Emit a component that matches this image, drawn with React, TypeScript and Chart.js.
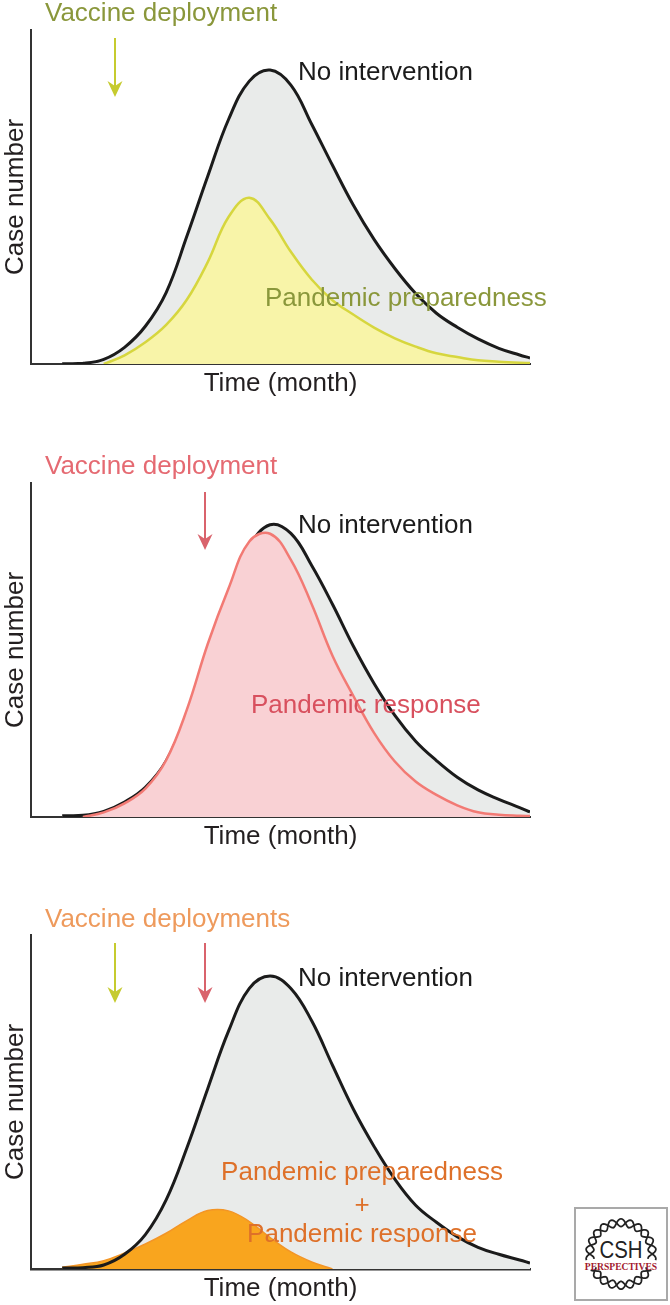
import React, { useEffect, useRef } from "react";
import { Chart, registerables } from "chart.js";

Chart.register(...registerables);

const FONT = '"Liberation Sans", Arial, Helvetica, sans-serif';
const FS = 26;

// Time axis (months) shared by all series
const months = [1.5, 2.5, 3.5, 4.5, 5.5, 6.5, 7.5, 8.5, 9.5, 10.5, 11.5, 12.5, 13.5, 14.5, 15.5, 16.5, 17.5, 18.5, 19.5, 20.5, 21.5, 22.5, 23.5, 24];

// Panel A: pandemic preparedness
const noInterventionA = [0.1, 0.2, 1.4, 5.0, 11.3, 21.4, 38.3, 56.2, 73.2, 84.7, 88.0, 83.5, 71.8, 59.5, 47.6, 37.3, 28.6, 21.1, 15.2, 11.0, 7.5, 4.7, 2.7, 1.8];
const preparedness = [null, null, 0, 2.6, 6.5, 11.7, 19.3, 30.5, 44.0, 49.8, 43.3, 33.6, 25.3, 19.1, 14.8, 10.9, 7.7, 5.2, 3.2, 2.1, 1.1, 0.7, 0.4, 0.3];

// Panel B: pandemic response
const noInterventionB = [0.4, 0.5, 1.7, 4.5, 8.9, 16.8, 30.9, 49.7, 67.1, 81.0, 87.5, 84.9, 75.3, 63.7, 51.2, 40.0, 30.4, 22.7, 16.9, 11.9, 8.1, 5.3, 2.8, 1.5];
const response = [null, 0, 1.4, 4.1, 8.5, 17.0, 32.2, 51.8, 68.4, 82.5, 84.8, 77.0, 63.7, 48.3, 36.3, 25.2, 16.6, 10.6, 6.6, 3.5, 1.4, 0.7, 0.4, 0.3];

// Panel C: preparedness + response
const noInterventionC = [0.3, 0.4, 1.2, 4.4, 10.3, 20.7, 36.3, 54.0, 71.2, 84.0, 87.7, 84.0, 74.3, 61.0, 47.9, 36.7, 26.9, 19.1, 14.0, 9.7, 6.5, 4.4, 2.7, 1.8];
const combined = [0.5, 1.4, 2.5, 4.8, 7.5, 10.7, 14.5, 17.5, 17.4, 14.2, 9.4, 5.1, 2.1, 0, null, null, null, null, null, null, null, null, null, null];

// Vaccine deployment times (months)
const deployPreparedness = 4.04;
const deployResponse = 8.37;

const xTitle = "Time (month)";
const yTitle = "Case number";

const pts = (vals: (number | null)[]) => months.map((m, i) => ({ x: m, y: vals[i] }));

const BLACK = "#1b1b1b";
const GRAY_FILL = "#e9ebea";

type TextItem = { text: string; x: number; y: number; color: string; align?: CanvasTextAlign };
type ArrowItem = { month: number; y1: number; y2: number; color: string };

function annotPlugin(texts: TextItem[], arrows: ArrowItem[]) {
  return {
    id: "annot",
    afterDraw(chart: any) {
      const ctx: CanvasRenderingContext2D = chart.ctx;
      const xs = chart.scales.x;
      ctx.save();
      for (const a of arrows) {
        const x = xs.getPixelForValue(a.month);
        ctx.strokeStyle = a.color;
        ctx.fillStyle = a.color;
        ctx.lineWidth = 2;
        ctx.beginPath();
        ctx.moveTo(x, a.y1);
        ctx.lineTo(x, a.y2 - 10);
        ctx.stroke();
        ctx.beginPath();
        ctx.moveTo(x, a.y2);
        ctx.lineTo(x - 7.5, a.y2 - 16);
        ctx.lineTo(x, a.y2 - 11);
        ctx.lineTo(x + 7.5, a.y2 - 16);
        ctx.closePath();
        ctx.fill();
      }
      ctx.font = `${FS}px ${FONT}`;
      ctx.textBaseline = "alphabetic";
      for (const t of texts) {
        ctx.fillStyle = t.color;
        ctx.textAlign = t.align || "left";
        ctx.fillText(t.text, t.x, t.y);
      }
      ctx.restore();
    },
  };
}

function buildConfig(height: number, datasets: any[], plugin: any, xBorder = 2): any {
  return {
    type: "line",
    data: { datasets },
    options: {
      animation: false,
      responsive: false,
      layout: { padding: { left: 0, top: 30, right: 140, bottom: height - 400 } },
      plugins: { legend: { display: false }, tooltip: { enabled: false } },
      elements: { point: { radius: 0, hoverRadius: 0 }, line: { tension: 0.4 } },
      events: [],
      scales: {
        x: {
          type: "linear",
          min: 0,
          max: 24,
          grid: { display: false, drawTicks: false },
          ticks: { display: false },
          border: { display: true, color: "#333333", width: xBorder },
          title: {
            display: true,
            text: xTitle,
            color: "#231f20",
            font: { family: FONT, size: FS },
            padding: { top: 0, bottom: 0.5 },
          },
          afterFit: (s: any) => {
            s.height = 36;
          },
        },
        y: {
          type: "linear",
          min: 0,
          max: 100,
          grid: { display: false, drawTicks: false },
          ticks: { display: false },
          border: { display: true, color: "#333333", width: 2 },
          title: {
            display: true,
            text: yTitle,
            color: "#231f20",
            font: { family: FONT, size: FS },
            padding: { top: 0, bottom: 0 },
          },
          afterFit: (s: any) => {
            s.width = 31;
          },
        },
      },
    },
    plugins: [plugin],
  };
}

function helixPath(cx: number, cy: number, R: number, amp: number, k: number, t0: number, t1: number, phase: number) {
  let d = "";
  const n = 120;
  for (let i = 0; i <= n; i++) {
    const t = t0 + ((t1 - t0) * i) / n;
    const r = R + amp * Math.sin(k * t + phase);
    const x = cx + r * Math.cos(t);
    const y = cy + r * Math.sin(t);
    d += (i ? "L" : "M") + x.toFixed(2) + " " + y.toFixed(2);
  }
  return d;
}

function Logo() {
  const cx = 46;
  const cy = 46;
  const R = 32;
  const deg = Math.PI / 180;
  const arcs = [
    [170 * deg, 370 * deg],
    [28 * deg, 152 * deg],
  ];
  return (
    <div
      style={{
        position: "absolute",
        left: 574,
        top: 1207,
        width: 90,
        height: 90,
        border: "2px solid #a9a9a9",
        background: "#fff",
      }}
    >
      <svg width={90} height={90} viewBox="0 0 92 92">
        {arcs.map(([a, b], i) => (
          <g key={i} fill="none" stroke="#222" strokeWidth={1.8}>
            <path d={helixPath(cx, cy, R, 4, 11, a, b, 0)} />
            <path d={helixPath(cx, cy, R, 4, 11, a, b, Math.PI)} />
          </g>
        ))}
        <text x={46} y={50} textAnchor="middle" fontFamily={FONT} fontSize={25} fill="#222" textLength={44} lengthAdjust="spacingAndGlyphs">
          CSH
        </text>
        <text
          x={46}
          y={62}
          textAnchor="middle"
          fontFamily='"Liberation Serif", serif'
          fontWeight="bold"
          fontSize={10.5}
          fill="#a3192e"
          textLength={74}
          lengthAdjust="spacingAndGlyphs"
        >
          PERSPECTIVES
        </text>
      </svg>
    </div>
  );
}

const H1 = 453;
const H2 = 452;
const H3 = 400;

export default function App() {
  const c1 = useRef<HTMLCanvasElement>(null);
  const c2 = useRef<HTMLCanvasElement>(null);
  const c3 = useRef<HTMLCanvasElement>(null);

  useEffect(() => {
    const olive = "#8a973b";
    const yellowArrow = "#c6cb2f";
    const redArrow = "#d9636c";

    const chartA = new Chart(
      c1.current!,
      buildConfig(
        H1,
        [
          {
            data: pts(preparedness),
            borderColor: "#d6d63e",
            borderWidth: 2.5,
            backgroundColor: "#f8f4a8",
            fill: "origin",
          },
          {
            data: pts(noInterventionA),
            borderColor: BLACK,
            borderWidth: 3,
            backgroundColor: GRAY_FILL,
            fill: "origin",
          },
        ],
        annotPlugin(
          [
            { text: "Vaccine deployment", x: 45, y: 21, color: olive },
            { text: "No intervention", x: 298, y: 80, color: BLACK },
            { text: "Pandemic preparedness", x: 265, y: 306, color: olive },
          ],
          [{ month: deployPreparedness, y1: 38, y2: 97, color: yellowArrow }]
        )
      )
    );

    const chartB = new Chart(
      c2.current!,
      buildConfig(
        H2,
        [
          {
            data: pts(response),
            borderColor: "#f27a74",
            borderWidth: 2.5,
            backgroundColor: "#f9d1d4",
            fill: "origin",
          },
          {
            data: pts(noInterventionB),
            borderColor: BLACK,
            borderWidth: 3,
            backgroundColor: GRAY_FILL,
            fill: "origin",
          },
        ],
        annotPlugin(
          [
            { text: "Vaccine deployment", x: 45, y: 21, color: "#e56a72" },
            { text: "No intervention", x: 298, y: 80, color: BLACK },
            { text: "Pandemic response", x: 251, y: 260, color: "#d8505e" },
          ],
          [{ month: deployResponse, y1: 39, y2: 97, color: redArrow }]
        )
      )
    );

    const chartC = new Chart(
      c3.current!,
      buildConfig(
        H3,
        [
          {
            data: pts(noInterventionC),
            borderColor: BLACK,
            borderWidth: 3,
            fill: false,
          },
          {
            data: pts(combined),
            borderColor: "#f39526",
            borderWidth: 1.5,
            backgroundColor: "#f9a51e",
            fill: "origin",
          },
          {
            data: pts(noInterventionC),
            borderColor: "transparent",
            borderWidth: 0.01,
            backgroundColor: GRAY_FILL,
            fill: "origin",
          },
        ],
        annotPlugin(
          [
            { text: "Vaccine deployments", x: 45, y: 22, color: "#ee9a5c" },
            { text: "No intervention", x: 298, y: 81, color: BLACK },
            { text: "Pandemic preparedness", x: 362, y: 275, color: "#de7029", align: "center" },
            { text: "+", x: 362, y: 308, color: "#de7029", align: "center" },
            { text: "Pandemic response", x: 362, y: 337, color: "#de7029", align: "center" },
          ],
          [
            { month: deployPreparedness, y1: 38, y2: 98, color: yellowArrow },
            { month: deployResponse, y1: 38, y2: 98, color: redArrow },
          ]
        ),
        2.5
      )
    );

    return () => {
      chartA.destroy();
      chartB.destroy();
      chartC.destroy();
    };
  }, []);

  return (
    <div
      style={{
        position: "absolute",
        left: 0,
        top: 0,
        width: 670,
        height: 1305,
        background: "#ffffff",
        overflow: "hidden",
      }}
    >
      <canvas ref={c1} width={670} height={H1} style={{ position: "absolute", left: 0, top: 0, display: "block" }} />
      <canvas ref={c2} width={670} height={H2} style={{ position: "absolute", left: 0, top: 453, display: "block" }} />
      <canvas ref={c3} width={670} height={H3} style={{ position: "absolute", left: 0, top: 905, display: "block" }} />
      <Logo />
    </div>
  );
}
